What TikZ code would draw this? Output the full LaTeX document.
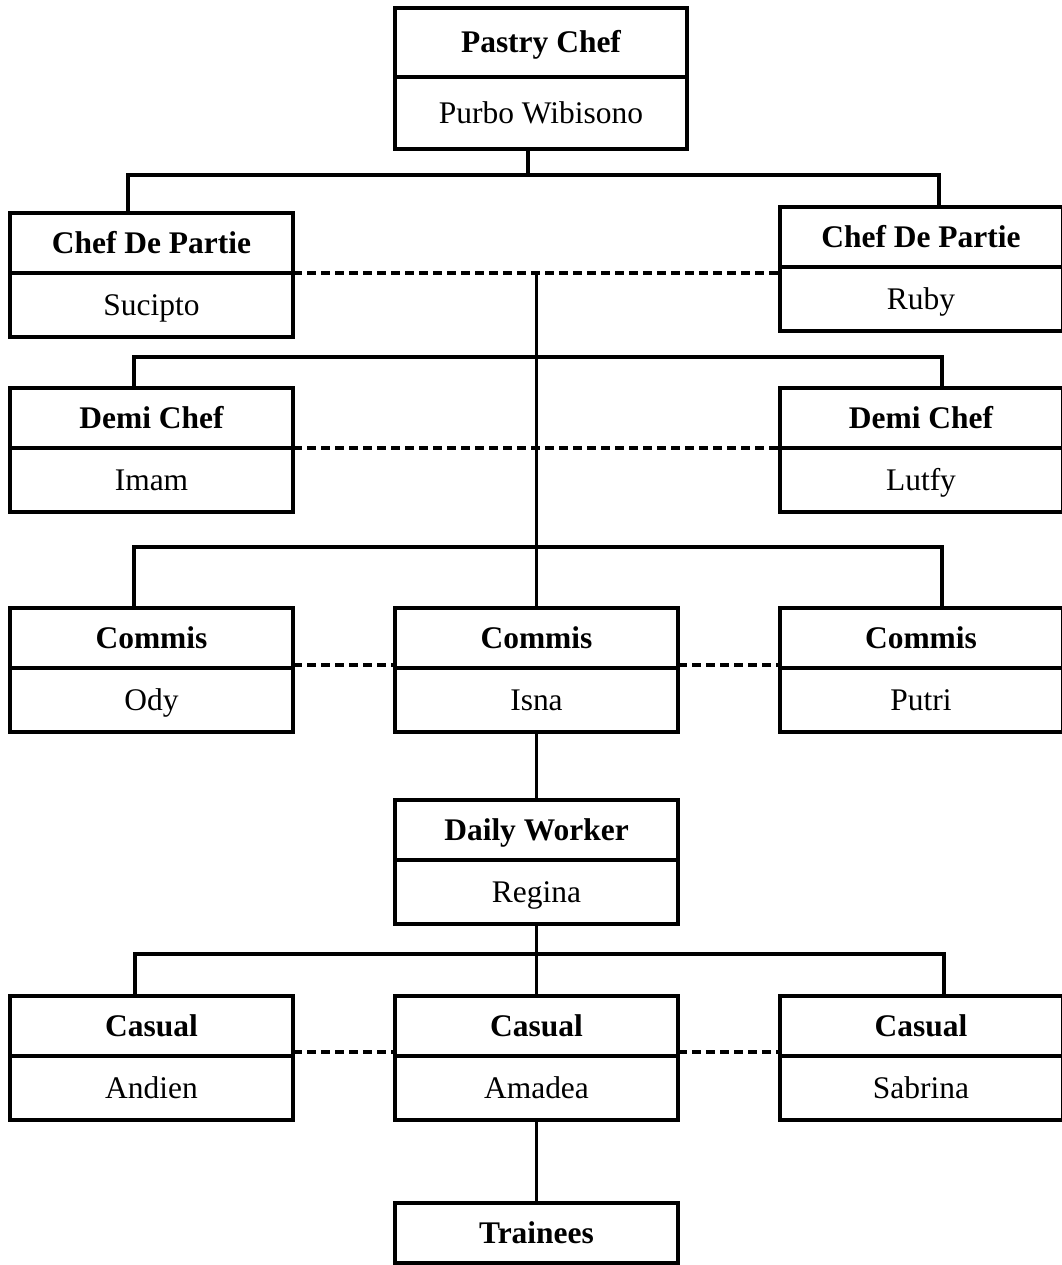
\documentclass[tikz,border=0pt]{standalone}
\usepackage{fontspec}
\setmainfont{Liberation Serif}
\usetikzlibrary{positioning}

\tikzset{
  post/.style={draw, line width=3pt, inner sep=0pt, outer sep=0pt, minimum width=212.25pt, minimum height=45pt, text height=18pt, text depth=2.4pt, font=\fontsize{23.6}{28}\selectfont\bfseries},
  person/.style={post, minimum height=48pt, font=\fontsize{23.6}{28}\selectfont},
  link/.style={line width=2.6pt},
  peer/.style={line width=2.8pt, dash pattern=on 6.75pt off 3.75pt},
}

\begin{document}
\begin{tikzpicture}[x=0.75pt,y=0.75pt,yscale=-1,xscale=1]
\useasboundingbox (0,0) rectangle (1062,1265);

% Boxes
\node[post, minimum width=219pt, minimum height=51.75pt] (pc) at (541,42.5) {Pastry Chef};
\node[person, minimum width=219pt, minimum height=54pt, below=0pt of pc] (pcn) {Purbo Wibisono};

\node[post] (cdl) at (151.5,243) {Chef De Partie};
\node[person, below=0pt of cdl] (cdln) {Sucipto};
\node[post] (cdr) at (921,237) {Chef De Partie};
\node[person, below=0pt of cdr] (cdrn) {Ruby};

\node[post] (dcl) at (151.5,418) {Demi Chef};
\node[person, below=0pt of dcl] (dcln) {Imam};
\node[post] (dcr) at (921,418) {Demi Chef};
\node[person, below=0pt of dcr] (dcrn) {Lutfy};

\node[post] (cml) at (151.5,638) {Commis};
\node[person, below=0pt of cml] (cmln) {Ody};
\node[post] (cmm) at (536.5,638) {Commis};
\node[person, below=0pt of cmm] (cmmn) {Isna};
\node[post] (cmr) at (921,638) {Commis};
\node[person, below=0pt of cmr] (cmrn) {Putri};

\node[post] (dw) at (536.5,830) {Daily Worker};
\node[person, below=0pt of dw] (dwn) {Regina};

\node[post] (csl) at (151.5,1026) {Casual};
\node[person, below=0pt of csl] (csln) {Andien};
\node[post] (csm) at (536.5,1026) {Casual};
\node[person, below=0pt of csm] (csmn) {Amadea};
\node[post] (csr) at (921,1026) {Casual};
\node[person, below=0pt of csr] (csrn) {Sabrina};

\node[post] (tr) at (536.5,1233) {Trainees};

% Bus points
\coordinate (b1) at (528,175);
\coordinate (b1l) at (128,175);
\coordinate (b1r) at (939,175);
\coordinate (b2l) at (134,357);
\coordinate (b2r) at (942,357);
\coordinate (b3l) at (134,547);
\coordinate (b3r) at (942,547);
\coordinate (b4l) at (135,954);
\coordinate (b4r) at (944,954);

% Pastry Chef to Chef De Partie
\draw[link] (pcn.south -| b1) -- (b1);
\draw[link] (cdl.north -| b1l) -- (b1l) -- (b1r) -- (cdr.north -| b1r);
\draw[peer] (cdln.north east) -- (cdln.north east -| cdr.west);

% Spine down to Commis
\draw[link] (cdln.north east -| cmm.north) -- (cmm.north);
\draw[link] (dcl.north -| b2l) -- (b2l) -- (b2r) -- (dcr.north -| b2r);
\draw[peer] (dcln.north east) -- (dcln.north east -| dcr.west);
\draw[link] (cml.north -| b3l) -- (b3l) -- (b3r) -- (cmr.north -| b3r);
\draw[peer] ([yshift=-2.5pt]cmln.north east) -- ([yshift=-2.5pt]cmmn.north west);
\draw[peer] ([yshift=-2.5pt]cmmn.north east) -- ([yshift=-2.5pt]cmrn.north west);

% Commis to Daily Worker to Casual
\draw[link] (cmmn.south) -- (dw.north);
\draw[link] (dwn.south) -- (csm.north);
\draw[link] (csl.north -| b4l) -- (b4l) -- (b4r) -- (csr.north -| b4r);
\draw[peer] ([yshift=-3pt]csln.north east) -- ([yshift=-3pt]csmn.north west);
\draw[peer] ([yshift=-3pt]csmn.north east) -- ([yshift=-3pt]csrn.north west);

% Casual to Trainees
\draw[link] (csmn.south) -- (tr.north);

\end{tikzpicture}
\end{document}
